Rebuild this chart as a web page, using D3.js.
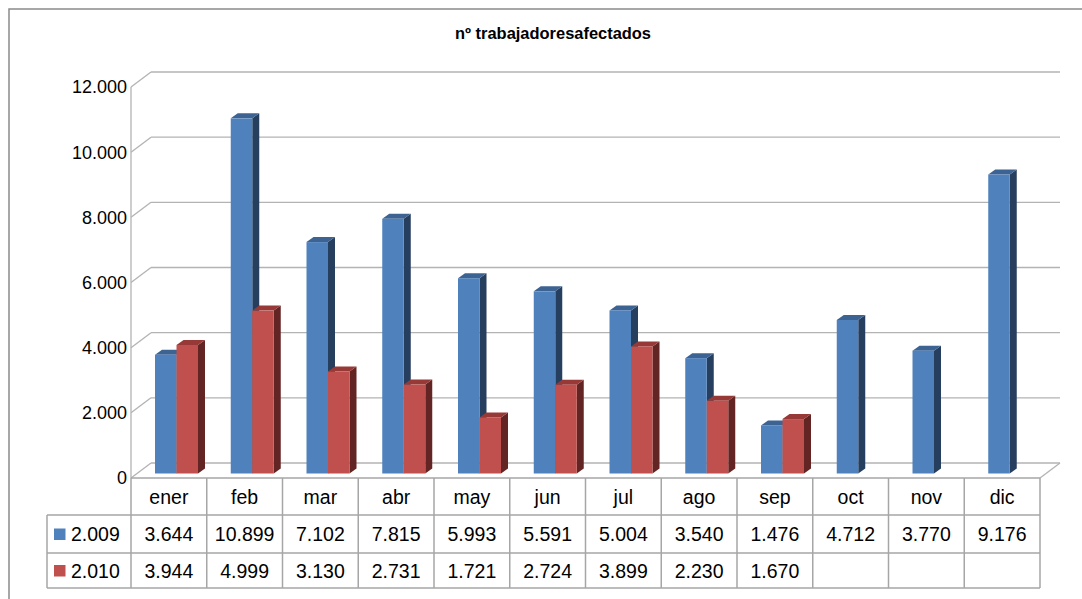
<!DOCTYPE html>
<meta charset="utf-8">
<style>
body { margin: 0; background: #fff; }
svg text { font-family: "Liberation Sans", Arial, sans-serif; fill: #000; }
.grid line { stroke: #b3b3b3; stroke-width: 1.3; }
.tbl line { stroke: #a6a6a6; stroke-width: 1.5; }
</style>
<svg width="1082" height="599"></svg>
<script src="https://d3js.org/d3.v7.min.js"></script>
<script>

var months = ["ener", "feb", "mar", "abr", "may", "jun", "jul", "ago", "sep", "oct", "nov", "dic"];
var seriesNames = ["2.009", "2.010"];
var s2009 = [3644, 10899, 7102, 7815, 5993, 5591, 5004, 3540, 1476, 4712, 3770, 9176];
var s2010 = [3944, 4999, 3130, 2731, 1721, 2724, 3899, 2230, 1670, null, null, null];
var yTicks = [0, 2000, 4000, 6000, 8000, 10000, 12000];

var colors = [
  {front: "#4f81bd", top: "#3d6393", side: "#263f5f"},
  {front: "#c0504d", top: "#973a37", side: "#632523"}
];

var es = d3.formatLocale({decimal: ",", thousands: ".", grouping: [3], currency: ["", ""]});
var fmt = es.format(",d");

var svg = d3.select("svg");

// chart frame
svg.append("rect")
    .attr("x", 9).attr("y", 9).attr("width", 1100).attr("height", 620)
    .attr("fill", "#fff").attr("stroke", "#8a8a8a").attr("stroke-width", 1.5);

svg.append("text")
    .attr("x", 553).attr("y", 39)
    .attr("text-anchor", "middle")
    .attr("textLength", 196).attr("lengthAdjust", "spacingAndGlyphs")
    .style("font-size", "16px").style("font-weight", "bold")
    .text("nº trabajadoresafectados");

// 3d geometry
var left = 131, right = 1040, depthX = 20, depthY = -15;
var x = d3.scaleBand().domain(months).range([left, right]);
var yFront = d3.scaleLinear().domain([0, 12000]).range([478, 87]);
var yBar = d3.scaleLinear().domain([0, 12000]).range([473.5, 82.5]);

var grid = svg.append("g").attr("class", "grid");

// floor
svg.insert("polygon", ".grid")
    .attr("points", [[left, yFront(0)], [left + depthX, yFront(0) + depthY],
                     [right + depthX, yFront(0) + depthY], [right, yFront(0)]].join(" "))
    .attr("fill", "#fff");

grid.selectAll(".h").data(yTicks).enter().append("line")
    .attr("x1", left + depthX).attr("x2", right + depthX)
    .attr("y1", function(d) { return yFront(d) + depthY; })
    .attr("y2", function(d) { return yFront(d) + depthY; });

grid.selectAll(".s").data(yTicks).enter().append("line")
    .attr("x1", left).attr("x2", left + depthX)
    .attr("y1", function(d) { return yFront(d); })
    .attr("y2", function(d) { return yFront(d) + depthY; });

grid.append("line")
    .attr("x1", right).attr("x2", right + depthX)
    .attr("y1", yFront(0)).attr("y2", yFront(0) + depthY);

grid.append("line")
    .attr("x1", left).attr("x2", left)
    .attr("y1", yFront(12000)).attr("y2", yFront(0));

svg.append("g").selectAll("text").data(yTicks).enter().append("text")
    .attr("x", 127)
    .attr("y", function(d) { return yFront(d); })
    .attr("dy", "0.36em")
    .attr("text-anchor", "end")
    .style("font-size", "18px")
    .text(function(d) { return fmt(d); });

// bars
var barW = 21.5, bdx = 7, bdy = -5;
var bars = svg.append("g");
[s2009, s2010].forEach(function(series, si) {
  var c = colors[si];
  months.forEach(function(m, i) {
    var v = series[i];
    if (v == null) return;
    var x0 = x(m) + 24 + si * barW, x1 = x0 + barW;
    var y0 = yBar(0), y1 = yBar(v);
    var g = bars.append("g");
    g.append("polygon")
        .attr("points", [[x1, y1], [x1 + bdx, y1 + bdy], [x1 + bdx, y0 + bdy], [x1, y0]].join(" "))
        .attr("fill", c.side);
    g.append("polygon")
        .attr("points", [[x0, y1], [x0 + bdx, y1 + bdy], [x1 + bdx, y1 + bdy], [x1, y1]].join(" "))
        .attr("fill", c.top);
    g.append("rect")
        .attr("x", x0).attr("y", y1).attr("width", barW).attr("height", y0 - y1)
        .attr("fill", c.front);
  });
});

// data table
var rowTop = [478, 515, 553, 588], tblLeft = 47;
var tbl = svg.append("g").attr("class", "tbl");
tbl.append("line").attr("x1", left).attr("x2", right).attr("y1", rowTop[0]).attr("y2", rowTop[0]);
[1, 2, 3].forEach(function(r) {
  tbl.append("line").attr("x1", tblLeft).attr("x2", right).attr("y1", rowTop[r]).attr("y2", rowTop[r]);
});
tbl.append("line").attr("x1", tblLeft).attr("x2", tblLeft).attr("y1", rowTop[1]).attr("y2", rowTop[3]);
months.concat(["end"]).forEach(function(m, i) {
  var xx = left + i * x.bandwidth();
  tbl.append("line").attr("x1", xx).attr("x2", xx).attr("y1", rowTop[0]).attr("y2", rowTop[3]);
});

svg.append("g").selectAll("text").data(months).enter().append("text")
    .attr("x", function(d) { return x(d) + x.bandwidth() / 2; })
    .attr("y", (rowTop[0] + rowTop[1]) / 2)
    .attr("dy", "0.36em")
    .attr("text-anchor", "middle")
    .style("font-size", "19.5px")
    .text(function(d) { return d; });

[s2009, s2010].forEach(function(series, si) {
  var yc = (rowTop[si + 1] + rowTop[si + 2]) / 2;
  svg.append("rect")
      .attr("x", 54).attr("y", yc - 5.5).attr("width", 11.5).attr("height", 11.5)
      .attr("fill", colors[si].front);
  svg.append("text")
      .attr("x", 71).attr("y", yc).attr("dy", "0.36em")
      .style("font-size", "19.5px")
      .text(seriesNames[si]);
  svg.append("g").selectAll("text").data(months).enter().append("text")
      .attr("x", function(d) { return x(d) + x.bandwidth() / 2; })
      .attr("y", yc)
      .attr("dy", "0.36em")
      .attr("text-anchor", "middle")
      .style("font-size", "19.5px")
      .text(function(d, i) { return series[i] == null ? "" : fmt(series[i]); });
});

</script>
